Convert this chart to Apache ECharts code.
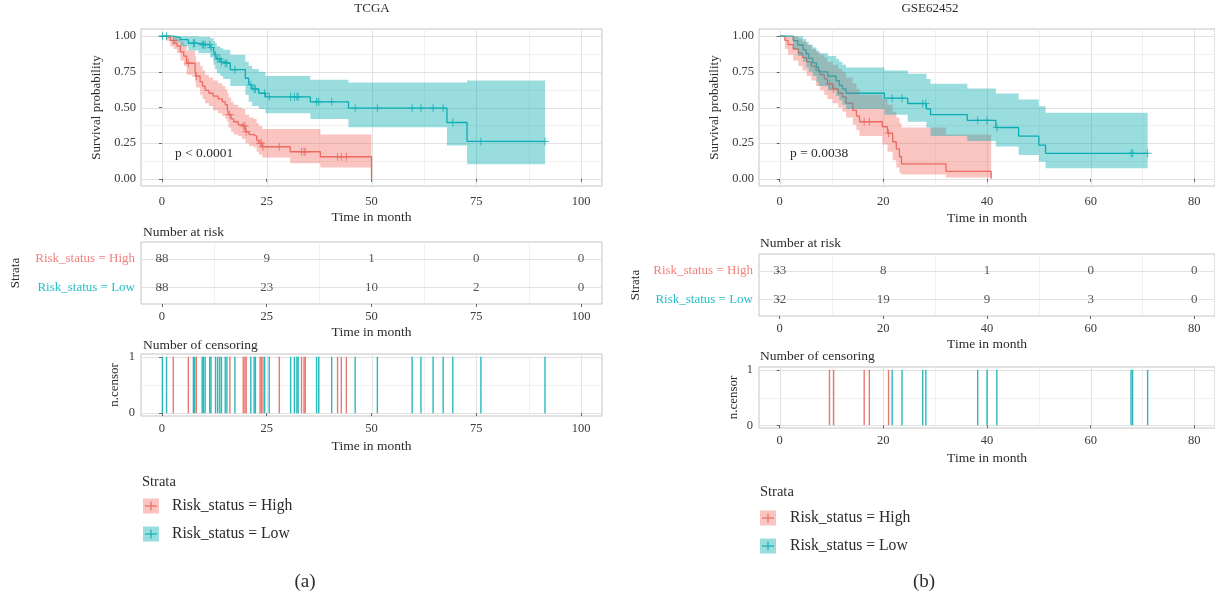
<!DOCTYPE html>
<html>
<head>
<meta charset="utf-8">
<script src="https://cdn.jsdelivr.net/npm/echarts@6/dist/echarts.min.js"></script>
<style>
  html, body { margin: 0; padding: 0; background: #ffffff; }
  #chart { width: 1215px; height: 593px; }
</style>
</head>
<body>
<div id="chart"></div>
<script>
// ---------- TCGA cohort: Kaplan–Meier steps (months, survival) and 95% CI ----------
const tcgaHighTime  = [0, 1.0, 2.0, 2.8, 3.6, 4.4, 5.2, 5.9, 7.9, 8.1, 9.1, 9.7, 10.3, 11.2, 12.2, 13.4, 14.4, 15.1, 15.6, 15.9, 16.5, 17.1, 18.2, 19.1, 19.9, 20.8, 21.9, 22.6, 23.1, 23.9, 30.6, 37.8, 50.0];
const tcgaHighSurv  = [1.0, 0.99, 0.97, 0.95, 0.93, 0.89, 0.86, 0.81, 0.76, 0.72, 0.68, 0.65, 0.62, 0.60, 0.58, 0.56, 0.54, 0.52, 0.49, 0.45, 0.42, 0.40, 0.38, 0.37, 0.33, 0.31, 0.30, 0.27, 0.25, 0.225, 0.19, 0.155, 0.0];
const tcgaHighUpper = [1.0, 1.0, 1.0, 0.995, 0.98, 0.96, 0.94, 0.90, 0.86, 0.82, 0.79, 0.76, 0.73, 0.71, 0.69, 0.67, 0.65, 0.63, 0.60, 0.57, 0.54, 0.52, 0.50, 0.49, 0.45, 0.43, 0.42, 0.39, 0.37, 0.35, 0.35, 0.31, 0.31];
const tcgaHighLower = [1.0, 0.97, 0.93, 0.91, 0.88, 0.83, 0.79, 0.73, 0.68, 0.64, 0.59, 0.56, 0.53, 0.51, 0.48, 0.46, 0.44, 0.42, 0.40, 0.36, 0.33, 0.31, 0.30, 0.28, 0.25, 0.23, 0.22, 0.19, 0.17, 0.15, 0.11, 0.08, 0.08];
const tcgaHighCensor = [2.7, 6.3, 8.2, 16.2, 19.4, 19.8, 20.1, 23.4, 23.7, 24.1, 28.0, 33.3, 33.9, 34.2, 41.9, 42.8, 44.0];

const tcgaLowTime  = [0, 2.8, 4.4, 6.3, 8.7, 11.5, 12.3, 12.7, 13.1, 13.9, 14.6, 16.3, 19.9, 20.7, 21.5, 23.1, 24.7, 35.4, 44.5, 68.0, 72.8, 91.4];
const tcgaLowSurv  = [1.0, 0.99, 0.975, 0.95, 0.94, 0.92, 0.89, 0.87, 0.84, 0.82, 0.81, 0.765, 0.705, 0.66, 0.63, 0.60, 0.575, 0.54, 0.495, 0.395, 0.262, 0.262];
const tcgaLowUpper = [1.0, 1.0, 1.0, 1.0, 0.995, 0.985, 0.965, 0.95, 0.93, 0.915, 0.905, 0.87, 0.82, 0.79, 0.77, 0.75, 0.72, 0.695, 0.675, 0.675, 0.69, 0.69];
const tcgaLowLower = [1.0, 0.96, 0.93, 0.90, 0.88, 0.85, 0.80, 0.77, 0.74, 0.72, 0.70, 0.65, 0.59, 0.54, 0.51, 0.49, 0.46, 0.42, 0.362, 0.234, 0.103, 0.103];
const tcgaLowCensor = [0.1, 1.1, 7.5, 7.8, 9.6, 9.9, 10.3, 11.4, 11.7, 12.8, 13.3, 13.8, 14.2, 15.1, 15.5, 17.4, 21.2, 22.0, 22.3, 24.5, 25.6, 30.7, 31.6, 32.2, 32.5, 36.9, 37.4, 40.5, 46.1, 51.4, 59.7, 61.8, 64.7, 67.1, 69.4, 76.1, 91.4];

const tcgaTicks = [0, 25, 50, 75, 100];
const tcgaRiskHigh = [88, 9, 1, 0, 0];
const tcgaRiskLow  = [88, 23, 10, 2, 0];

// ---------- GSE62452 cohort ----------
const gseHighTime  = [0, 1.0, 1.6, 2.6, 3.6, 4.4, 5.2, 6.1, 7.0, 7.8, 8.6, 9.2, 10.2, 11.3, 12.1, 12.8, 14.1, 14.8, 15.4, 19.8, 20.8, 21.8, 22.5, 23.1, 23.5, 32.1, 40.8];
const gseHighSurv  = [1.0, 0.97, 0.94, 0.91, 0.88, 0.85, 0.82, 0.79, 0.76, 0.73, 0.70, 0.665, 0.63, 0.60, 0.575, 0.53, 0.48, 0.44, 0.40, 0.365, 0.32, 0.26, 0.21, 0.155, 0.105, 0.053, 0.0];
const gseHighUpper = [1.0, 1.0, 1.0, 1.0, 0.98, 0.96, 0.94, 0.91, 0.89, 0.87, 0.85, 0.82, 0.80, 0.77, 0.75, 0.71, 0.67, 0.63, 0.59, 0.56, 0.52, 0.47, 0.43, 0.39, 0.36, 0.31, 0.31];
const gseHighLower = [1.0, 0.91, 0.87, 0.83, 0.79, 0.76, 0.72, 0.69, 0.65, 0.62, 0.59, 0.56, 0.53, 0.50, 0.47, 0.43, 0.38, 0.34, 0.30, 0.24, 0.19, 0.13, 0.08, 0.04, 0.03, 0.01, 0.01];
const gseHighCensor = [9.6, 10.4, 16.3, 17.3, 21.0];

const gseLowTime  = [0, 2.6, 3.5, 4.5, 5.1, 5.6, 6.4, 7.1, 7.5, 9.3, 10.9, 11.5, 12.1, 12.8, 20.2, 24.7, 28.3, 29.1, 36.2, 41.7, 46.1, 50.0, 51.3, 71.0];
const gseLowSurv  = [1.0, 0.969, 0.938, 0.906, 0.875, 0.844, 0.812, 0.781, 0.75, 0.719, 0.688, 0.656, 0.63, 0.60, 0.565, 0.528, 0.49, 0.45, 0.41, 0.36, 0.30, 0.237, 0.179, 0.179];
const gseLowUpper = [1.0, 1.0, 1.0, 0.98, 0.96, 0.94, 0.92, 0.90, 0.88, 0.86, 0.84, 0.82, 0.80, 0.78, 0.76, 0.737, 0.70, 0.667, 0.633, 0.598, 0.556, 0.509, 0.463, 0.463];
const gseLowLower = [1.0, 0.91, 0.86, 0.82, 0.78, 0.75, 0.72, 0.68, 0.65, 0.62, 0.58, 0.55, 0.52, 0.49, 0.45, 0.40, 0.36, 0.30, 0.265, 0.226, 0.167, 0.12, 0.074, 0.074];
const gseLowCensor = [21.7, 23.6, 27.6, 28.2, 38.2, 40.0, 41.9, 67.8, 68.1, 71.0];

const gseTicks = [0, 20, 40, 60, 80];
const gseRiskHigh = [33, 8, 1, 0, 0];
const gseRiskLow  = [32, 19, 9, 3, 0];

const survTicks = [0, 0.25, 0.5, 0.75, 1];
const censorTicks = [0, 1];
const strataLabels = ['Risk_status = Low', 'Risk_status = High'];

// ---------- styling ----------
const FONT = '"Liberation Serif", "DejaVu Serif", serif';
const RED_LINE = '#EA6A61', TEAL_LINE = '#14B0B4';
const RED_FILL = 'rgba(242,108,100,0.40)', TEAL_FILL = 'rgba(0,170,176,0.40)';
const RED_TEXT = '#F47F7A', TEAL_TEXT = '#22BFC6';
const GRID_MAJOR = '#E2E2E2', GRID_MINOR = '#ECECEC';
const BORDER = '#C4C4C4';
const INK = '#2b2b2b', TICK_INK = '#3a3a3a';
const TICK_SIZE = 12.5, TITLE_SIZE = 13.5;

const mids = arr => arr.slice(1).map((v, i) => (v + arr[i]) / 2);
const survAt = (ts, ss, t) => { let v = ss[0]; for (let i = 0; i < ts.length; i++) if (ts[i] <= t) v = ss[i]; return v; };

const grids = [
  { left: 141, top: 29,  width: 461, height: 157 },  // TCGA curves
  { left: 759, top: 29,  width: 457, height: 157 },  // GSE62452 curves
  { left: 141, top: 242, width: 461, height: 62 },   // TCGA risk table
  { left: 759, top: 254, width: 457, height: 62 },   // GSE62452 risk table
  { left: 141, top: 354, width: 461, height: 62 },   // TCGA censoring
  { left: 759, top: 367, width: 457, height: 61 }    // GSE62452 censoring
].map(g => Object.assign({ show: true, borderColor: BORDER, borderWidth: 1, backgroundColor: 'transparent' }, g));

function xAxis(gridIndex, min, max, ticks, nameGap, margin) {
  return {
    type: 'value', gridIndex, min, max,
    splitLine: { show: false }, axisLine: { show: false },
    axisTick: { show: true, length: 3, customValues: ticks, lineStyle: { color: '#666', width: 1 } },
    axisLabel: { customValues: ticks, margin, fontFamily: FONT, fontSize: TICK_SIZE, color: TICK_INK },
    name: 'Time in month', nameLocation: 'middle', nameGap,
    nameTextStyle: { fontFamily: FONT, fontSize: TITLE_SIZE, color: INK }
  };
}
function yAxisValue(gridIndex, min, max, ticks, formatter, name, nameGap, margin, rich) {
  const ax = {
    type: 'value', gridIndex, min, max,
    splitLine: { show: false }, axisLine: { show: false },
    axisTick: { show: true, length: 3, customValues: ticks, lineStyle: { color: '#666', width: 1 } },
    axisLabel: { customValues: ticks, formatter, margin, fontFamily: FONT, fontSize: TICK_SIZE, color: TICK_INK },
    name, nameLocation: 'middle', nameGap, nameRotate: 90,
    nameTextStyle: { fontFamily: FONT, fontSize: 13, color: INK }
  };
  if (rich) ax.axisLabel.rich = rich;
  return ax;
}

// background grid lines: [value, direction (0 = vertical, 1 = horizontal), major flag]
function gridLineSeries(idx, vMajor, vMinor, hMajor, hMinor) {
  const data = [];
  vMajor.forEach(v => data.push([v, 0, 1]));
  vMinor.forEach(v => data.push([v, 0, 0]));
  hMajor.forEach(v => data.push([v, 1, 1]));
  hMinor.forEach(v => data.push([v, 1, 0]));
  return {
    type: 'custom', xAxisIndex: idx, yAxisIndex: idx, silent: true, z: 0,
    data, encode: { x: -1, y: -1 },
    renderItem(params, api) {
      const cs = params.coordSys;
      const v = api.value(0), dir = api.value(1), major = api.value(2);
      const stroke = major ? GRID_MAJOR : GRID_MINOR;
      const lw = major ? 1 : 0.8;
      if (dir === 0) {
        const x = Math.round(api.coord([v, 1])[0]) + 0.5;
        return { type: 'line', shape: { x1: x, y1: cs.y, x2: x, y2: cs.y + cs.height }, style: { stroke, lineWidth: lw } };
      }
      const y = Math.round(api.coord([0, v])[1]) + 0.5;
      return { type: 'line', shape: { x1: cs.x, y1: y, x2: cs.x + cs.width, y2: y }, style: { stroke, lineWidth: lw } };
    }
  };
}

function stepSeries(idx, ts, ss, color) {
  return {
    type: 'line', xAxisIndex: idx, yAxisIndex: idx, step: 'end', showSymbol: false, silent: true, z: 2,
    data: ts.map((t, i) => [t, ss[i]]),
    lineStyle: { color, width: 1.3 }, itemStyle: { color }
  };
}

function bandSeries(idx, ts, lo, hi, fill) {
  return {
    type: 'custom', xAxisIndex: idx, yAxisIndex: idx, silent: true, z: 3,
    data: [[ts[0], hi[0]]],
    renderItem(params, api) {
      const pts = [];
      for (let i = 0; i < ts.length - 1; i++) {
        pts.push(api.coord([ts[i], hi[i]]), api.coord([ts[i + 1], hi[i]]));
      }
      for (let i = ts.length - 2; i >= 0; i--) {
        pts.push(api.coord([ts[i + 1], lo[i]]), api.coord([ts[i], lo[i]]));
      }
      return { type: 'polygon', shape: { points: pts }, style: { fill } };
    }
  };
}

const PLUS = 'path://M0,4.35H10V5.65H0Z M4.35,0H5.65V10H4.35Z';
function censorMarks(idx, ts, ss, cens, color) {
  return {
    type: 'scatter', xAxisIndex: idx, yAxisIndex: idx, silent: true, z: 4,
    symbol: PLUS, symbolSize: 8,
    data: cens.map(t => [t, survAt(ts, ss, t)]),
    itemStyle: { color }
  };
}

function censorBars(idx, cens, color) {
  return {
    type: 'custom', xAxisIndex: idx, yAxisIndex: idx, silent: true, z: 3,
    data: cens.map(t => [t, 1]),
    renderItem(params, api) {
      const t = api.value(0);
      const a = api.coord([t, 0]), b = api.coord([t, api.value(1)]);
      return { type: 'line', shape: { x1: a[0], y1: a[1], x2: b[0], y2: b[1] }, style: { stroke: color, lineWidth: 1.4, opacity: 0.9 } };
    }
  };
}

function riskSeries(idx, ticks, counts, row) {
  return {
    type: 'scatter', xAxisIndex: idx, yAxisIndex: idx, silent: true, z: 4,
    symbolSize: 0.1, itemStyle: { color: 'rgba(0,0,0,0)' },
    data: ticks.map((t, i) => [t, row, counts[i]]),
    label: { show: true, position: 'inside', formatter: p => String(p.value[2]),
             fontFamily: FONT, fontSize: 13, color: INK }
  };
}

const riskRich = {
  h: { color: RED_TEXT, fontFamily: FONT, fontSize: 13 },
  l: { color: TEAL_TEXT, fontFamily: FONT, fontSize: 13 }
};
const riskFmt = v => (Math.round(v) === 2 ? '{h|' + strataLabels[1] + '}' : '{l|' + strataLabels[0] + '}');

const option = {
  animation: false,
  textStyle: { fontFamily: FONT },
  grid: grids,
  xAxis: [
    xAxis(0, -5, 105, tcgaTicks, 24, 9),
    xAxis(1, -4, 84, gseTicks, 25, 9),
    xAxis(2, -5, 105, tcgaTicks, 21, 6),
    xAxis(3, -4, 84, gseTicks, 21, 6),
    xAxis(4, -5, 105, tcgaTicks, 23, 6),
    xAxis(5, -4, 84, gseTicks, 23, 6)
  ],
  yAxis: [
    yAxisValue(0, -0.05, 1.05, survTicks, v => v.toFixed(2), 'Survival probability', 38, 5),
    yAxisValue(1, -0.05, 1.05, survTicks, v => v.toFixed(2), 'Survival probability', 38, 5),
    yAxisValue(2, 0.4, 2.6, [1, 2], riskFmt, 'Strata', 119, 6, riskRich),
    yAxisValue(3, 0.4, 2.6, [1, 2], riskFmt, 'Strata', 117, 6, riskRich),
    yAxisValue(4, -0.05, 1.05, censorTicks, v => String(Math.round(v)), 'n.censor', 20, 6),
    yAxisValue(5, -0.05, 1.05, censorTicks, v => String(Math.round(v)), 'n.censor', 19, 6)
  ],
  series: [
    // grid lines
    gridLineSeries(0, tcgaTicks, mids(tcgaTicks), survTicks, mids(survTicks)),
    gridLineSeries(1, gseTicks, mids(gseTicks), survTicks, mids(survTicks)),
    gridLineSeries(2, [], mids(tcgaTicks), [1, 2], []),
    gridLineSeries(3, [], mids(gseTicks), [1, 2], []),
    gridLineSeries(4, tcgaTicks, mids(tcgaTicks), censorTicks, [0.5]),
    gridLineSeries(5, gseTicks, mids(gseTicks), censorTicks, [0.5]),

    // TCGA survival curves
    stepSeries(0, tcgaHighTime, tcgaHighSurv, RED_LINE),
    stepSeries(0, tcgaLowTime, tcgaLowSurv, TEAL_LINE),
    bandSeries(0, tcgaHighTime, tcgaHighLower, tcgaHighUpper, RED_FILL),
    bandSeries(0, tcgaLowTime, tcgaLowLower, tcgaLowUpper, TEAL_FILL),
    censorMarks(0, tcgaHighTime, tcgaHighSurv, tcgaHighCensor, RED_LINE),
    censorMarks(0, tcgaLowTime, tcgaLowSurv, tcgaLowCensor, TEAL_LINE),

    // GSE62452 survival curves
    stepSeries(1, gseHighTime, gseHighSurv, RED_LINE),
    stepSeries(1, gseLowTime, gseLowSurv, TEAL_LINE),
    bandSeries(1, gseHighTime, gseHighLower, gseHighUpper, RED_FILL),
    bandSeries(1, gseLowTime, gseLowLower, gseLowUpper, TEAL_FILL),
    censorMarks(1, gseHighTime, gseHighSurv, gseHighCensor, RED_LINE),
    censorMarks(1, gseLowTime, gseLowSurv, gseLowCensor, TEAL_LINE),

    // numbers at risk
    riskSeries(2, tcgaTicks, tcgaRiskHigh, 2),
    riskSeries(2, tcgaTicks, tcgaRiskLow, 1),
    riskSeries(3, gseTicks, gseRiskHigh, 2),
    riskSeries(3, gseTicks, gseRiskLow, 1),

    // censoring events
    censorBars(4, tcgaHighCensor, RED_LINE),
    censorBars(4, tcgaLowCensor, TEAL_LINE),
    censorBars(5, gseHighCensor, RED_LINE),
    censorBars(5, gseLowCensor, TEAL_LINE)
  ],
  graphic: []
};

// text annotations and legends
function txt(x, y, text, size, opts) {
  return {
    type: 'text', x, y, silent: true, z: 10,
    style: Object.assign({ text, fontFamily: FONT, fontSize: size, fill: INK,
      align: 'left', verticalAlign: 'middle', textAlign: 'left', textVerticalAlign: 'middle' }, opts || {})
  };
}
function centered(x, y, text, size) {
  return txt(x, y, text, size, { align: 'center', textAlign: 'center' });
}
function legendKey(x, cy, fill, line) {
  return {
    type: 'group', x, y: cy - 7.5, silent: true, z: 10,
    children: [
      { type: 'rect', shape: { x: 0, y: 0, width: 16, height: 15 }, style: { fill } },
      { type: 'line', shape: { x1: 2, y1: 7.5, x2: 14, y2: 7.5 }, style: { stroke: line, lineWidth: 1.2 } },
      { type: 'line', shape: { x1: 8, y1: 3, x2: 8, y2: 12 }, style: { stroke: line, lineWidth: 1.2 } }
    ]
  };
}

option.graphic = [
  centered(372, 9, 'TCGA', 13),
  centered(930, 9, 'GSE62452', 13),
  txt(175, 153, 'p < 0.0001', 13.5),
  txt(790, 153, 'p = 0.0038', 13.5),
  txt(143, 232, 'Number at risk', 13.5),
  txt(760, 243, 'Number at risk', 13.5),
  txt(143, 345, 'Number of censoring', 13.5),
  txt(760, 356, 'Number of censoring', 13.5),

  txt(142, 482, 'Strata', 14.5),
  legendKey(143, 506, RED_FILL, RED_LINE),
  txt(172, 506, strataLabels[1], 15.7),
  legendKey(143, 534, TEAL_FILL, TEAL_LINE),
  txt(172, 534, strataLabels[0], 15.7),

  txt(760, 492, 'Strata', 14.5),
  legendKey(760, 518, RED_FILL, RED_LINE),
  txt(790, 518, strataLabels[1], 15.7),
  legendKey(760, 546, TEAL_FILL, TEAL_LINE),
  txt(790, 546, strataLabels[0], 15.7),

  centered(305, 582, '(a)', 19),
  centered(924, 582, '(b)', 19)
];

const chart = echarts.init(document.getElementById('chart'), null, { renderer: 'canvas' });
chart.setOption(option);
</script>
</body>
</html>
